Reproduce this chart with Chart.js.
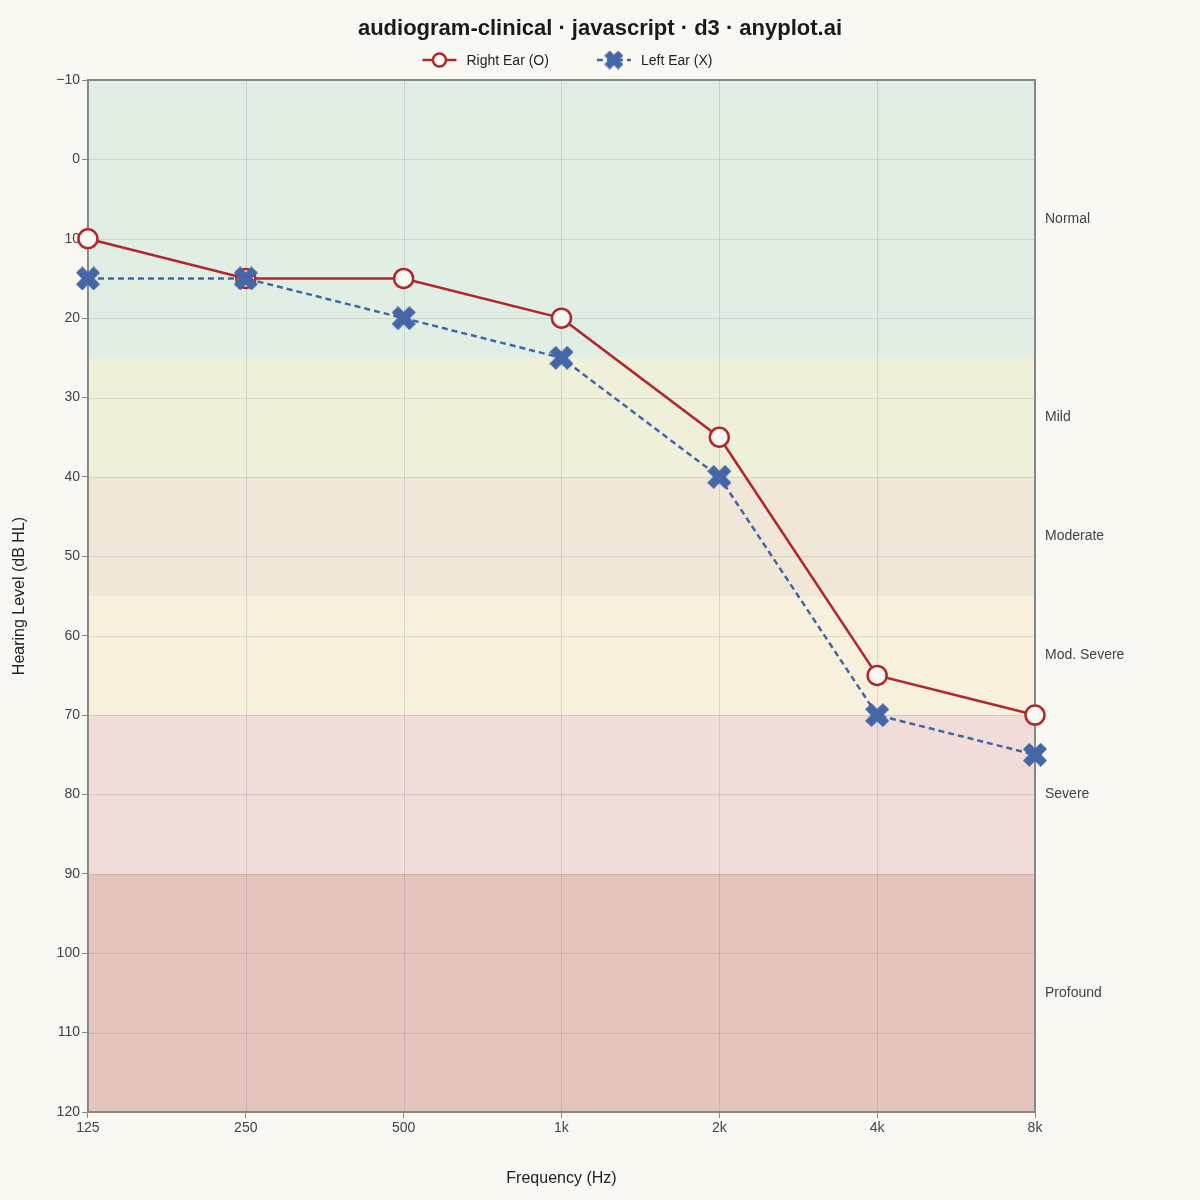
<!DOCTYPE html>
<html>
<head>
<meta charset="utf-8">
<title>audiogram-clinical</title>
<script src="https://cdn.jsdelivr.net/npm/chart.js@4.4.1/dist/chart.umd.min.js"></script>
<style>
  html, body { margin: 0; padding: 0; background: #FAF8F2; }
  #wrap { width: 1200px; height: 1200px; }
</style>
</head>
<body>
<div id="wrap"><canvas id="audiogram" width="1200" height="1200"></canvas></div>
<script>
// Data
const freqLabels = ['125', '250', '500', '1k', '2k', '4k', '8k'];
const rightEar = [10, 15, 15, 20, 35, 65, 70];
const leftEar = [15, 15, 20, 25, 40, 70, 75];

// Hearing-loss bands (dB HL)
const bandNames = ['Normal', 'Mild', 'Moderate', 'Mod. Severe', 'Severe', 'Profound'];
const bandFrom = [-10, 25, 40, 55, 70, 90];
const bandTo = [25, 40, 55, 70, 90, 120];
const bandColors = ['#E0EEE4', '#EEF0D9', '#F0E7D8', '#F6F0DC', '#F0DCD8', '#E6C4BE'];

const RED = '#B0282E';
const BLUE = '#4466A6';
const BG = '#FAF8F2';
const FONT = '"Liberation Sans", Arial, sans-serif';

Chart.defaults.font.family = FONT;
Chart.defaults.color = '#444';

// filled X marker (polygon)
function makeCross(size, thick) {
  const c = document.createElement('canvas');
  c.width = size; c.height = size;
  const g = c.getContext('2d');
  const h = size / 2, t = thick / Math.SQRT2;
  g.fillStyle = BLUE;
  g.beginPath();
  g.moveTo(0, t); g.lineTo(t, 0); g.lineTo(h, h - t); g.lineTo(size - t, 0);
  g.lineTo(size, t); g.lineTo(h + t, h); g.lineTo(size, size - t); g.lineTo(size - t, size);
  g.lineTo(h, h + t); g.lineTo(t, size); g.lineTo(0, size - t); g.lineTo(h - t, h);
  g.closePath();
  g.fill();
  return c;
}

const crossMarker = makeCross(24, 9);
const legendCross = makeCross(19, 7.5);

// title + legend drawn above the plot
const headerPlugin = {
  id: 'header',
  afterDraw(chart) {
    const { ctx, chartArea } = chart;
    ctx.save();
    ctx.fillStyle = '#1a1a1a';
    ctx.font = 'bold 22px ' + FONT;
    ctx.textAlign = 'center';
    ctx.textBaseline = 'middle';
    ctx.fillText('audiogram-clinical · javascript · d3 · anyplot.ai', 600, 29);

    ctx.font = '14px ' + FONT;
    const items = [chart.data.datasets[0].label, chart.data.datasets[1].label];
    const sw = 34, gapText = 10, gapItem = 48;
    const widths = items.map(t => sw + gapText + ctx.measureText(t).width);
    const cx = (chartArea.left + chartArea.right) / 2 + 6;
    let x = cx - (widths[0] + widths[1] + gapItem) / 2;
    const y = 60;
    ctx.textAlign = 'left';
    items.forEach((t, i) => {
      ctx.lineWidth = 2.5;
      if (i === 0) {
        ctx.strokeStyle = RED;
        ctx.beginPath(); ctx.moveTo(x, y); ctx.lineTo(x + sw, y); ctx.stroke();
        ctx.fillStyle = BG;
        ctx.beginPath(); ctx.arc(x + sw / 2, y, 6.5, 0, Math.PI * 2); ctx.fill(); ctx.stroke();
      } else {
        ctx.strokeStyle = BLUE;
        ctx.setLineDash([6, 4]);
        ctx.beginPath(); ctx.moveTo(x, y); ctx.lineTo(x + sw, y); ctx.stroke();
        ctx.setLineDash([]);
        ctx.drawImage(legendCross, x + sw / 2 - 9.5, y - 9.5);
      }
      ctx.fillStyle = '#222';
      ctx.fillText(t, x + sw + gapText, y + 1);
      x += widths[i] + gapItem;
    });
    ctx.restore();
  }
};

const bandsPlugin = {
  id: 'bands',
  beforeDatasetsDraw(chart) {
    const { ctx, chartArea, scales } = chart;
    ctx.save();
    for (let i = 0; i < bandNames.length; i++) {
      const y1 = scales.y.getPixelForValue(bandFrom[i]);
      const y2 = scales.y.getPixelForValue(bandTo[i]);
      ctx.fillStyle = bandColors[i];
      ctx.fillRect(chartArea.left, y1, chartArea.right - chartArea.left, y2 - y1);
    }
    // grid on top of bands
    ctx.strokeStyle = 'rgba(0,0,0,0.1)';
    ctx.lineWidth = 1;
    ctx.beginPath();
    scales.y.ticks.forEach(t => {
      const y = Math.round(scales.y.getPixelForValue(t.value)) + 0.5;
      ctx.moveTo(chartArea.left, y); ctx.lineTo(chartArea.right, y);
    });
    freqLabels.forEach((_, i) => {
      const x = Math.round(scales.x.getPixelForValue(i)) + 0.5;
      ctx.moveTo(x, chartArea.top); ctx.lineTo(x, chartArea.bottom);
    });
    ctx.stroke();
    // plot frame
    ctx.strokeStyle = '#888';
    ctx.lineWidth = 2;
    ctx.strokeRect(chartArea.left, chartArea.top, chartArea.right - chartArea.left, chartArea.bottom - chartArea.top);
    // band labels
    ctx.fillStyle = '#444';
    ctx.font = '14px ' + FONT;
    ctx.textBaseline = 'middle';
    ctx.textAlign = 'left';
    for (let i = 0; i < bandNames.length; i++) {
      const y = scales.y.getPixelForValue((bandFrom[i] + bandTo[i]) / 2);
      ctx.fillText(bandNames[i], chartArea.right + 10, y);
    }
    ctx.restore();
  }
};

new Chart(document.getElementById('audiogram'), {
  type: 'line',
  data: {
    labels: freqLabels,
    datasets: [
      {
        label: 'Right Ear (O)',
        data: rightEar,
        borderColor: RED,
        borderWidth: 2.5,
        backgroundColor: BG,
        pointStyle: 'circle',
        pointRadius: 9.5,
        pointHoverRadius: 9.5,
        pointBorderWidth: 2.5,
        pointBackgroundColor: BG,
        pointBorderColor: RED,
        tension: 0,
        clip: false,
        order: 2
      },
      {
        label: 'Left Ear (X)',
        data: leftEar,
        borderColor: BLUE,
        borderWidth: 2.5,
        borderDash: [6, 4],
        pointStyle: crossMarker,
        pointRadius: 12,
        pointHoverRadius: 12,
        tension: 0,
        clip: false,
        order: 1
      }
    ]
  },
  options: {
    responsive: false,
    devicePixelRatio: 1,
    animation: false,
    events: [],
    layout: { padding: { left: 6, right: 165, top: 80, bottom: 8 } },
    plugins: {
      title: { display: false },
      legend: { display: false },
      tooltip: { enabled: false }
    },
    scales: {
      x: {
        type: 'category',
        offset: false,
        grid: { display: true, drawOnChartArea: false, drawTicks: true, tickLength: 6, tickColor: '#888' },
        border: { display: false },
        ticks: { color: '#444', font: { size: 14 }, padding: 2, maxRotation: 0 },
        title: { display: true, text: 'Frequency (Hz)', color: '#222', font: { size: 16 }, padding: { top: 30, bottom: 4 } }
      },
      y: {
        reverse: true,
        min: -10,
        max: 120,
        grid: { display: true, drawOnChartArea: false, drawTicks: true, tickLength: 6, tickColor: '#888' },
        border: { display: false },
        ticks: {
          stepSize: 10,
          color: '#444',
          font: { size: 14 },
          padding: 2,
          callback: (v) => String(v).replace('-', '\u2212')
        },
        title: { display: true, text: 'Hearing Level (dB HL)', color: '#222', font: { size: 16 }, padding: { bottom: 25 } }
      }
    }
  },
  plugins: [bandsPlugin, headerPlugin]
});
</script>
</body>
</html>
